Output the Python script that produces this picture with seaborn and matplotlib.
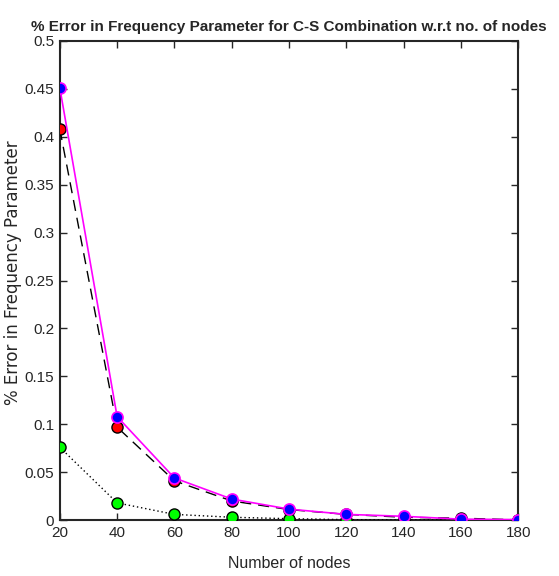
import matplotlib
matplotlib.use("Agg")
import matplotlib.pyplot as plt
import seaborn as sns
import pandas as pd

nodes = [20, 40, 60, 80, 100, 120, 140, 160, 180]
err_dashed = [0.408, 0.097, 0.041, 0.020, 0.011, 0.006, 0.003, 0.002, 0.0003]
err_dotted = [0.076, 0.018, 0.006, 0.003, 0.0015, 0.0005, 0.0002, 0.0001, 0.0]
err_solid = [0.451, 0.108, 0.044, 0.022, 0.0115, 0.006, 0.004, 0.001, 0.0005]

sns.set_style("white")
plt.rcParams['font.family'] = ['Liberation Sans', 'DejaVu Sans']

fig = plt.figure(figsize=(5.59, 5.76), dpi=100)
ax = fig.add_axes([0.107, 0.097, 0.82, 0.832])

df_dash = pd.DataFrame({"x": nodes, "y": err_dashed})
df_dot = pd.DataFrame({"x": nodes, "y": err_dotted})
df_sol = pd.DataFrame({"x": nodes, "y": err_solid})

sns.lineplot(data=df_dash, x="x", y="y", ax=ax, color="black", linewidth=1.0,
             linestyle=(0, (8, 5)), marker="o", markersize=8,
             markerfacecolor="red", markeredgecolor="black", markeredgewidth=1.0, zorder=3)
sns.lineplot(data=df_dot, x="x", y="y", ax=ax, color="black", linewidth=1.0,
             linestyle=(0, (1, 2)), marker="o", markersize=8,
             markerfacecolor="#00ff00", markeredgecolor="black", markeredgewidth=1.0, zorder=3)
sns.lineplot(data=df_sol, x="x", y="y", ax=ax, color="magenta", linewidth=1.2,
             marker="o", markersize=8, markerfacecolor="blue",
             markeredgecolor="magenta", markeredgewidth=1.2, zorder=4)

ax.set_xlim(20, 180)
ax.set_ylim(0, 0.5)
ax.set_xticks(nodes)
ax.set_xticklabels([str(n) for n in nodes])
yt = [0, 0.05, 0.1, 0.15, 0.2, 0.25, 0.3, 0.35, 0.4, 0.45, 0.5]
ax.set_yticks(yt)
ax.set_yticklabels(["0", "0.05", "0.1", "0.15", "0.2", "0.25", "0.3", "0.35", "0.4", "0.45", "0.5"])
ax.tick_params(direction="in", length=5, width=1, labelsize=11, colors="#262626",
               top=True, right=True, left=True, bottom=True, pad=4)
for s in ax.spines.values():
    s.set_linewidth(1.5)
    s.set_color("#262626")
    s.set_visible(True)
ax.set_xlabel("Number of nodes", fontsize=11.5, color="#262626")
ax.xaxis.set_label_coords(0.5, -0.075)
ax.set_ylabel("% Error in Frequency Parameter", fontsize=12, color="#262626",
              family=["DejaVu Sans"])
ax.yaxis.set_label_coords(-0.083, 0.516)
ax.set_title("% Error in Frequency Parameter for C-S Combination w.r.t no. of nodes",
             fontsize=11, fontweight="bold", pad=7, x=0.5)
ax.grid(False)
fig.savefig("out.png", dpi=100)
